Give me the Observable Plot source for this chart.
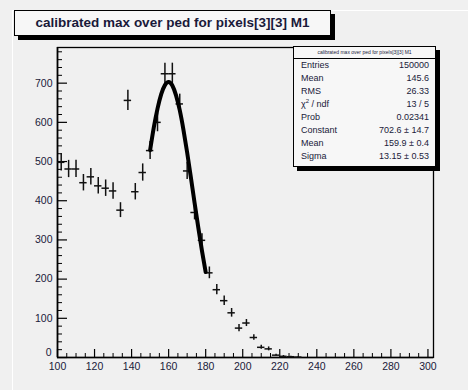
<!DOCTYPE html>
<html><head><meta charset="utf-8">
<script src="https://cdn.jsdelivr.net/npm/d3@7"></script>
<script src="https://cdn.jsdelivr.net/npm/@observablehq/plot@0.6"></script>
<style>
html,body{margin:0;padding:0;background:#f0f0f0;}
#wrap{position:relative;width:468px;height:390px;overflow:hidden;font-family:"Liberation Sans",Arial,sans-serif;}
#edge{position:absolute;left:12px;top:10px;right:0;bottom:0;border-left:1px solid #fff;border-top:1px solid #fff;}
#chart{position:absolute;left:0;top:0;}
#title{position:absolute;left:14px;top:10px;width:315px;height:24px;border:1px solid #000;background:#f7f7f7;box-shadow:4px 4px 0 #000;font-weight:bold;font-size:13.5px;text-align:center;line-height:24px;color:#1a1a3a;white-space:nowrap;}
#stats{position:absolute;left:293px;top:46px;width:141px;height:119px;border:1px solid #000;background:#f7f7f7;box-shadow:4px 4px 0 #000;color:#1a1a3a;}
#stats .hd{font-size:5px;text-align:center;height:11px;line-height:11px;border-bottom:1px solid #000;white-space:nowrap;}
#stats .row{display:flex;justify-content:space-between;padding:0 6px 0 7px;height:13px;line-height:13px;font-size:9px;white-space:nowrap;overflow:hidden;}
#stats sup{font-size:6px;line-height:0;vertical-align:0;position:relative;top:-4px;}
</style></head>
<body>
<div id="wrap">
  <div id="edge"></div>
  <div id="chart"></div>
  <div id="title"></div>
  <div id="stats"></div>
</div>
<script>
// ---- data ----
const titleText = "calibrated max over ped for pixels[3][3] M1";
const binCenters = [102,106,110,114,118,122,126,130,134,138,142,146,150,154,158,162,166,170,174,178,182,186,190,194,198,202,206,210,214,218,222,226,230];
const counts =     [498,481,481,446,461,438,432,425,376,656,423,472,528,600,724,724,647,476,370,299,216,173,145,114,75,88,51,26,22,6,3,2,1];
const errors =     [22,22,22,21,21,21,21,21,19,26,21,22,23,24,27,27,25,22,19,17,15,13,12,11,9,9,7,5,5,2,2,1,1];
const binHalfWidth = 2;
const fitX = [150,152,154,156,158,160,162,164,166,168,170,172,174,176,178,180];
const fitY = [529,587,635,672,695,703,694,669,631,581,523,460,395,332,272,218];
const xTicks = [100,120,140,160,180,200,220,240,260,280,300];
const yTicks = [0,100,200,300,400,500,600,700];
const statLabels = ["Entries","Mean","RMS","χ² / ndf","Prob","Constant","Mean","Sigma"];
const statValues = ["150000","145.6","26.33","13 / 5","0.02341","702.6 ± 14.7","159.9 ± 0.4","13.15 ± 0.53"];

// ---- layout ----
const W = 468, H = 390;
const mL = 57, mR = 35, mT = 47, mB = 33;
const xDom = [100, 303], yDom = [0, 791];
const ux = (xDom[1]-xDom[0])/(W-mL-mR);   // data units per px (x)
const uy = (yDom[1]-yDom[0])/(H-mT-mB);   // data units per px (y)

const pts = binCenters.map((x,i)=>({x, y:counts[i], e:errors[i]}));
const fit = fitX.map((x,i)=>({x, y:fitY[i]}));
const minorX = d3.range(xDom[0], 301, 5).filter(v=>v%20!==0);
const minorY = d3.range(0, 781, 20).filter(v=>v%100!==0);
const ink = "#1a1a3a";

const chart = Plot.plot({
  width: W, height: H,
  marginLeft: mL, marginRight: mR, marginTop: mT, marginBottom: mB,
  x: {domain: xDom},
  y: {domain: yDom},
  style: {background: "transparent", fontFamily: '"Liberation Sans", Arial, sans-serif'},
  marks: [
    Plot.frame({stroke: "#000", strokeWidth: 1.3}),
    Plot.ruleX([xDom[0]], {stroke:"#000", strokeWidth: 1.6}),
    Plot.ruleY([0], {stroke:"#000", strokeWidth: 1.6}),
    Plot.ruleY(minorY, {y: d=>d, x1: xDom[0], x2: xDom[0] + 5*ux, stroke: "#000"}),
    Plot.ruleY(yTicks, {y: d=>d, x1: xDom[0], x2: xDom[0] + 10*ux, stroke: "#000", strokeWidth: 1.2}),
    Plot.ruleX(minorX, {x: d=>d, y1: 0, y2: 4*uy, stroke: "#000"}),
    Plot.ruleX(xTicks, {x: d=>d, y1: 0, y2: 8*uy, stroke: "#000", strokeWidth: 1.2}),
    Plot.axisY({ticks: yTicks.filter(v=>v>0), tickSize: 0, tickPadding: 5, fontSize: 10.5, color: ink, label: null}),
    Plot.axisY({ticks: [0], tickSize: 0, tickPadding: 5, fontSize: 10.5, color: ink, label: null, dy: -5, dx: -1}),
    Plot.axisX({ticks: xTicks, tickSize: 0, tickPadding: 5, fontSize: 10.5, color: ink, label: null}),
    Plot.ruleX(pts, {x: "x", y1: d=>d.y-d.e, y2: d=>d.y+d.e, stroke: "#111", strokeWidth: 1.5}),
    Plot.ruleY(pts, {y: "y", x1: d=>d.x-binHalfWidth, x2: d=>d.x+binHalfWidth, stroke: "#111", strokeWidth: 1.5}),
    Plot.line(fit, {x: "x", y: "y", stroke: "#000", strokeWidth: 4, curve: "natural"})
  ]
});
document.getElementById("chart").appendChild(chart);

document.getElementById("title").textContent = titleText;
const st = document.getElementById("stats");
const hd = document.createElement("div"); hd.className = "hd"; hd.textContent = titleText; st.appendChild(hd);
statLabels.forEach((l,i)=>{
  const r = document.createElement("div"); r.className = "row";
  const a = document.createElement("span");
  if (l.startsWith("χ²")) { a.innerHTML = "χ<sup>2</sup> / ndf"; } else a.textContent = l;
  const b = document.createElement("span"); b.textContent = statValues[i];
  r.appendChild(a); r.appendChild(b); st.appendChild(r);
});
</script>
</body></html>
